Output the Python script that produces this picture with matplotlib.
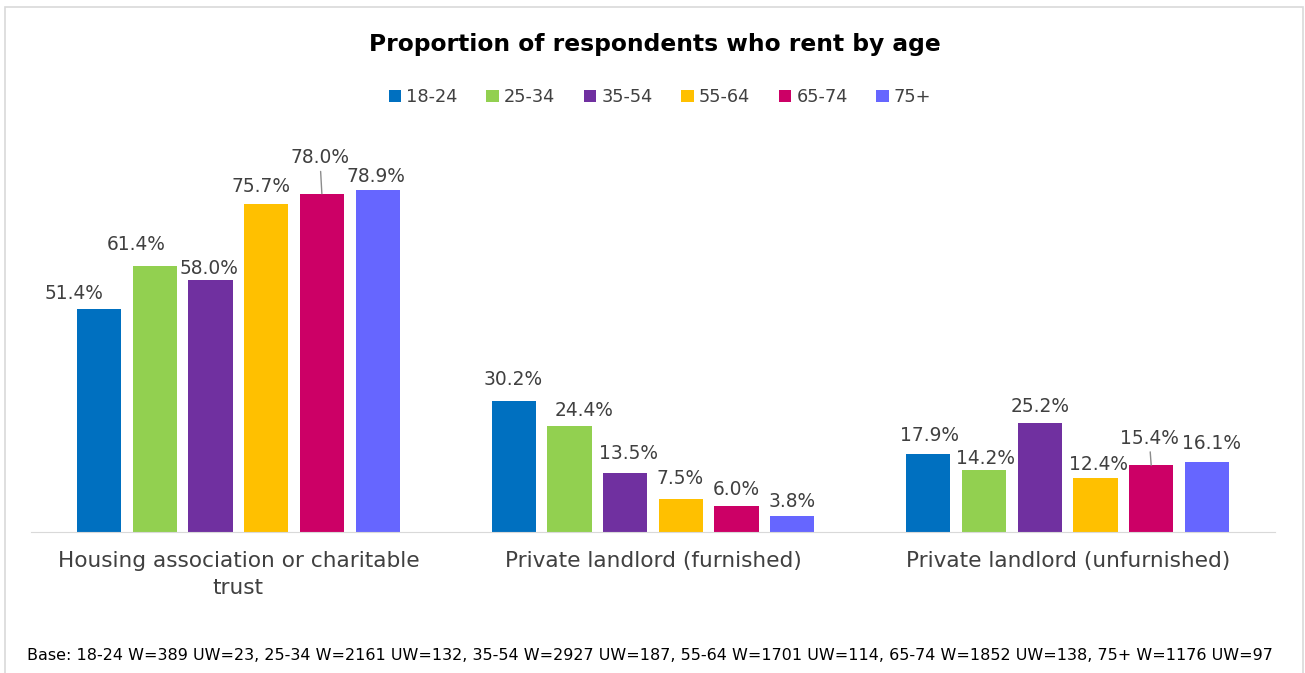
import matplotlib.pyplot as plt
import numpy as np
from matplotlib.patches import Rectangle

# data
categories = ["Housing association or charitable\ntrust",
              "Private landlord (furnished)",
              "Private landlord (unfurnished)"]
age_groups = ["18-24", "25-34", "35-54", "55-64", "65-74", "75+"]
share_18_24 = [51.4, 30.2, 17.9]
share_25_34 = [61.4, 24.4, 14.2]
share_35_54 = [58.0, 13.5, 25.2]
share_55_64 = [75.7, 7.5, 12.4]
share_65_74 = [78.0, 6.0, 15.4]
share_75_plus = [78.9, 3.8, 16.1]
series = [share_18_24, share_25_34, share_35_54, share_55_64, share_65_74, share_75_plus]
base_note = ("Base: 18-24 W=389 UW=23, 25-34 W=2161 UW=132, 35-54 W=2927 UW=187, "
             "55-64 W=1701 UW=114, 65-74 W=1852 UW=138, 75+ W=1176 UW=97")

COLORS = ["#0070C0", "#92D050", "#7030A0", "#FFC000", "#CC0066", "#6666FF"]
INK = "#404040"

# label offsets in pixels (dx, dy) from the bar top, per series / per category
LABEL_OFFSETS = [
    [(-25, 16), (-1, 22), (1, 19)],
    [(-19, 21), (15, 16), (1, 12)],
    [(-1, 12), (3, 20), (0, 16)],
    [(-5, 17), (-1, 21), (3, 14)],
    [(-2, 36), (0, 16), (-2, 27)],
    [(-2, 13), (0, 14), (5, 19)],
]
LEADERS = {(4, 0), (4, 2)}

plt.rcParams["font.family"] = ["DejaVu Sans"]

fig = plt.figure(figsize=(13.05, 6.73), dpi=100)
W, H = 1305, 673
ax = fig.add_axes([31 / W, 141 / H, (1275 - 31) / W, (532 - 140) / H])

x = np.arange(len(categories))
bw = 44 / 414
step = 55.6 / 414
for i, (vals, col) in enumerate(zip(series, COLORS)):
    pos = x + (i - 2.5) * step
    ax.bar(pos, vals, width=bw, color=col, label=age_groups[i], zorder=2)
    for j, (px, v) in enumerate(zip(pos, vals)):
        dx, dy = LABEL_OFFSETS[i][j]
        arrow = None
        if (i, j) in LEADERS:
            arrow = dict(arrowstyle="-", color="#8C8C8C", lw=1, shrinkA=1, shrinkB=0)
        ax.annotate(f"{v:.1f}%", xy=(px, v), xytext=(dx, dy),
                    textcoords="offset pixels", ha="center", va="center",
                    fontsize=13.4, color=INK, arrowprops=arrow)

ax.set_xlim(-0.5, 2.5)
ax.set_ylim(0, 90.4)
ax.set_yticks([])
ax.set_xticks(x)
ax.set_xticklabels(categories, fontsize=15.6, color=INK, linespacing=1.4)
ax.tick_params(axis="x", length=0, pad=14)
for side in ("top", "right", "left"):
    ax.spines[side].set_visible(False)
ax.spines["bottom"].set_color("#D9D9D9")

fig.text(655 / W, 1 - 45 / H, "Proportion of respondents who rent by age",
         ha="center", va="center", fontsize=16.8, fontweight="bold", color="black")
fig.legend(loc="center", bbox_to_anchor=(660 / W, 1 - 97 / H), ncol=6,
           frameon=False, fontsize=12.8, handlelength=0.7, handleheight=0.7,
           handletextpad=0.3, columnspacing=1.6, labelcolor=INK)
fig.text(650 / W, 1 - 655 / H, base_note, ha="center", va="center",
         fontsize=11.5, color="black")

fig.patches.append(Rectangle((5 / W, -0.01), 1298 / W, 1 - 7 / H + 0.01,
                             transform=fig.transFigure, fill=False,
                             edgecolor="#D9D9D9", lw=1.2))

fig.savefig("out.png", dpi=100)
